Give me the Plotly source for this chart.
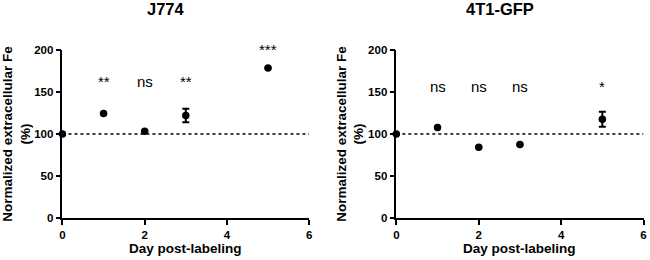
import plotly.graph_objects as go

days = [0, 1, 2, 3, 5]
j774_values = [100, 124.4, 103.3, 122, 178.7]
j774_err = [0, 0, 0, 8, 0]
j774_sig = ["", "**", "ns", "**", "***"]
j774_sig_y = [None, 162, 162, 162, 201]

t41_values = [100, 107.7, 84.3, 87.5, 117.6]
t41_err = [0, 0, 0, 0, 9]
t41_sig = ["", "ns", "ns", "ns", "*"]
t41_sig_y = [None, 156, 156, 156, 156]

titles = ["J774", "4T1-GFP"]
x_ticks = [0, 2, 4, 6]
y_ticks = [0, 50, 100, 150, 200]
y_max = 200

FONT = "Liberation Sans, Arial, sans-serif"

fig = go.Figure()
domains = [[60 / 650, 309 / 650], [397 / 650, 646.5 / 650]]
title_x = [165 / 650, 502 / 650]
panels = [(j774_values, j774_err, j774_sig, j774_sig_y),
          (t41_values, t41_err, t41_sig, t41_sig_y)]

for i, (vals, errs, sig, sig_y) in enumerate(panels):
    xa = "x" if i == 0 else "x2"
    ya = "y" if i == 0 else "y2"
    fig.add_trace(go.Scatter(x=[0, 6], y=[100, 100], mode="lines",
                             line=dict(color="black", width=1.5, dash="dot"),
                             xaxis=xa, yaxis=ya, hoverinfo="skip", showlegend=False,
                             cliponaxis=False))
    fig.add_trace(go.Scatter(x=days, y=vals, mode="markers",
                             marker=dict(color="black", size=7.5),
                             error_y=dict(type="data", array=errs, color="black",
                                          thickness=2, width=3.5, visible=True),
                             xaxis=xa, yaxis=ya, showlegend=False, cliponaxis=False))
    for d, s, sy in zip(days, sig, sig_y):
        if not s:
            continue
        fig.add_annotation(x=d, y=sy / y_max, xref=xa, yref=ya + " domain", text=s,
                           showarrow=False, xanchor="center", yanchor="middle",
                           font=dict(family=FONT, size=15, color="black"))
    xkey = "xaxis" if i == 0 else "xaxis2"
    ykey = "yaxis" if i == 0 else "yaxis2"
    fig.update_layout(**{
        xkey: dict(domain=domains[i], range=[0, 6], tickvals=x_ticks,
                   ticktext=["<b>%d</b>" % t for t in x_ticks],
                   showgrid=False, zeroline=False, showline=True, linecolor="black",
                   linewidth=1.5, ticks="outside", ticklen=5, tickwidth=1.5,
                   tickcolor="black", anchor=ya,
                   tickfont=dict(family=FONT, size=11.5, color="black")),
        ykey: dict(domain=[0, 1], range=[0, y_max], tickvals=y_ticks,
                   ticktext=["<b>%d</b>" % t for t in y_ticks],
                   showgrid=False, zeroline=False, showline=True, linecolor="black",
                   linewidth=1.5, ticks="outside", ticklen=5, tickwidth=1.5,
                   tickcolor="black", anchor=xa,
                   tickfont=dict(family=FONT, size=11.5, color="black"),
                   title=dict(text="<b>Normalized extracellular Fe<br>(%)</b>", standoff=1,
                              font=dict(family=FONT, size=13.5, color="black"))),
    })
    cx = (domains[i][0] + domains[i][1]) / 2
    fig.add_annotation(x=title_x[i], y=1, xref="paper", yref="paper", yshift=41.5,
                       xanchor="center", yanchor="middle", showarrow=False,
                       text="<b>%s</b>" % titles[i],
                       font=dict(family=FONT, size=16.5, color="black"))
    fig.add_annotation(x=cx, y=0, xref="paper", yref="paper", yshift=-30,
                       xanchor="center", yanchor="middle", showarrow=False,
                       text="<b>Day post-labeling</b>",
                       font=dict(family=FONT, size=13.5, color="black"))

fig.update_layout(width=650, height=260, margin=dict(l=0, r=0, t=50, b=42),
                  plot_bgcolor="white", paper_bgcolor="white")
fig.write_html("out.html", config={"displayModeBar": False},
               post_script="document.body.style.margin='0';document.body.style.padding='0';")
